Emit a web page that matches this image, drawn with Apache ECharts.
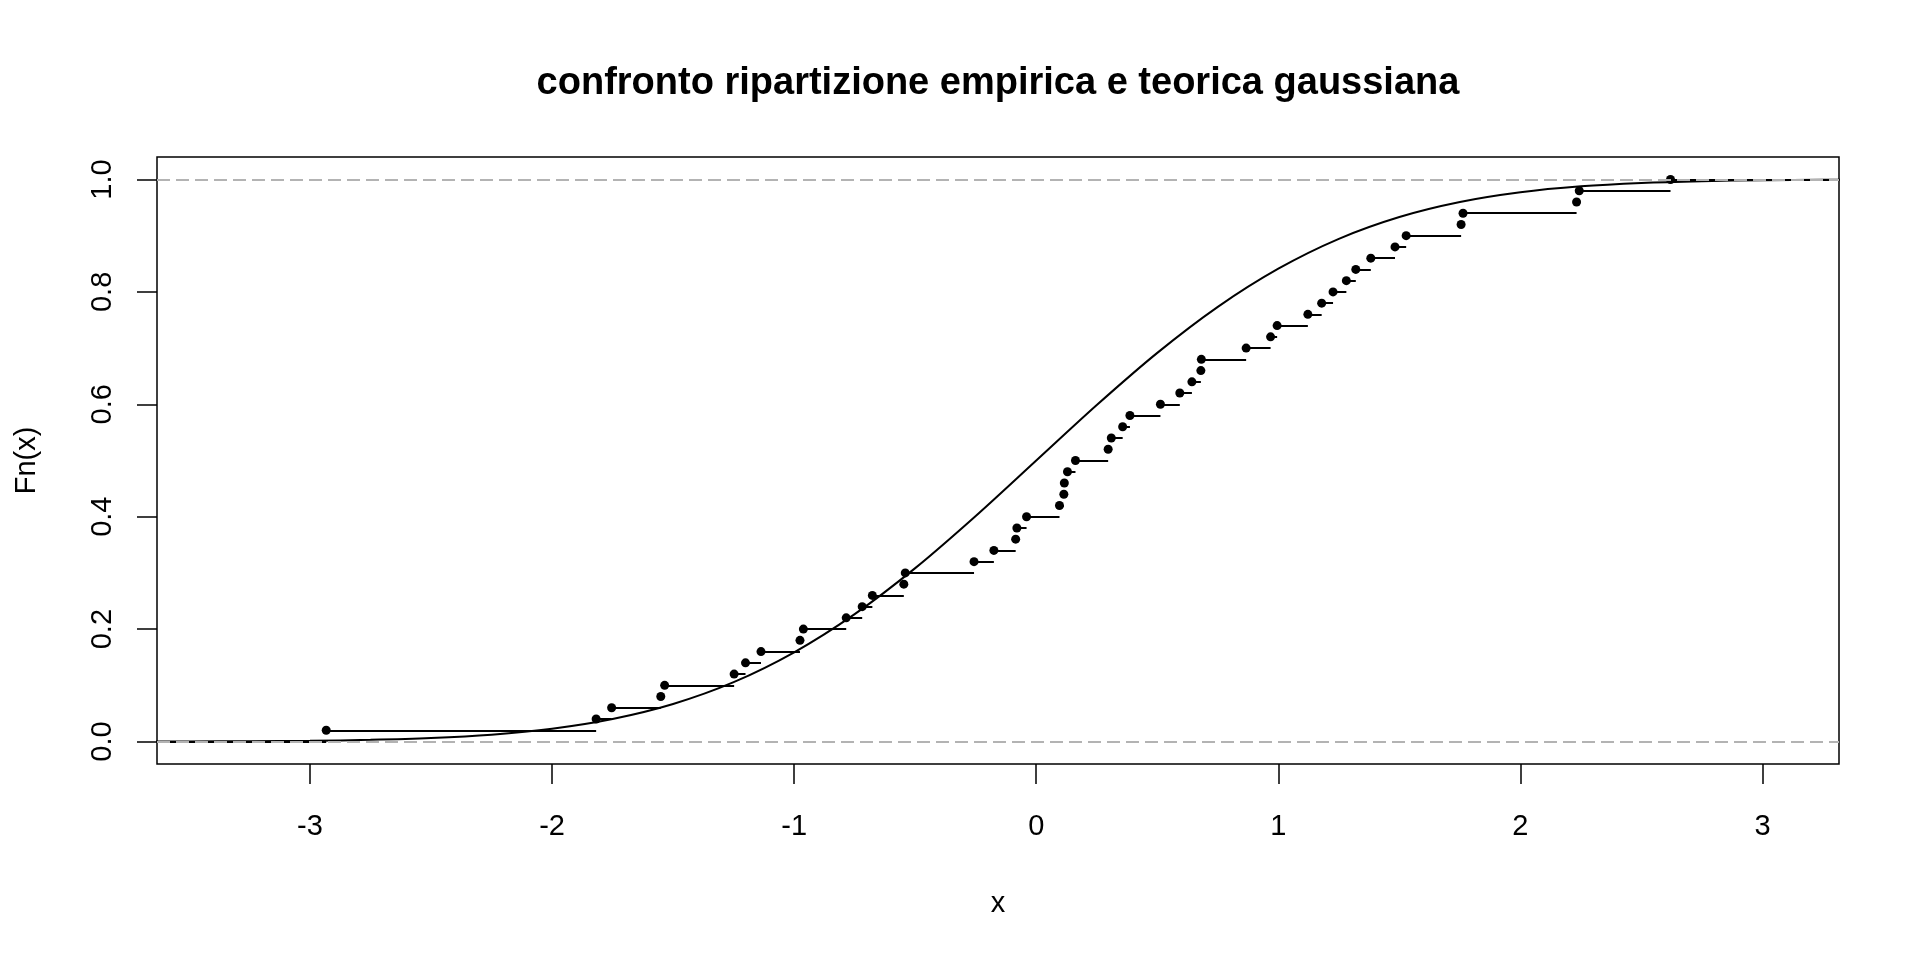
<!DOCTYPE html>
<html>
<head>
<meta charset="utf-8">
<title>confronto ripartizione empirica e teorica gaussiana</title>
<script src="https://cdn.jsdelivr.net/npm/echarts@6/dist/echarts.min.js"></script>
<style>
html, body { margin: 0; padding: 0; background: #fff; }
#chart { width: 1920px; height: 960px; }
</style>
</head>
<body>
<div id="chart"></div>
<script>
// campione ordinato (50 osservazioni)
const campione = [
  -2.933, -1.818, -1.754, -1.551, -1.535, -1.248, -1.201, -1.137, -0.976, -0.962,
  -0.785, -0.719, -0.677, -0.547, -0.541, -0.257, -0.175, -0.085, -0.080, -0.040,
  0.096, 0.114, 0.116, 0.129, 0.162, 0.297, 0.310, 0.357, 0.387, 0.513,
  0.593, 0.643, 0.680, 0.682, 0.867, 0.968, 0.995, 1.122, 1.179, 1.226,
  1.281, 1.320, 1.382, 1.482, 1.528, 1.755, 1.763, 2.232, 2.243, 2.620
]
// ripartizione teorica gaussiana, punti della curva
const curvaX = [-3.75, -3.5, -3.25, -3, -2.75, -2.5, -2.25, -2, -1.75, -1.5, -1.25, -1, -0.75, -0.5, -0.25,
  0, 0.25, 0.5, 0.75, 1, 1.25, 1.5, 1.75, 2, 2.25, 2.5, 2.75, 3, 3.25, 3.5]
const curvaY = [0.0001, 0.0002, 0.0006, 0.0013, 0.0030, 0.0062, 0.0122, 0.0228, 0.0401, 0.0668, 0.1056, 0.1587, 0.2266, 0.3085, 0.4013,
  0.5, 0.5987, 0.6915, 0.7734, 0.8413, 0.8944, 0.9332, 0.9599, 0.9772, 0.9878, 0.9938, 0.9970, 0.9987, 0.9994, 0.9998]
const xTicks = [-3, -2, -1, 0, 1, 2, 3]
const yTicks = [0, 0.2, 0.4, 0.6, 0.8, 1]
const xMin = -3.632, xMax = 3.316
const yMin = -0.04, yMax = 1.04

const n = campione.length
const punti = campione.map((x, i) => [x, (i + 1) / n])
let gradini = []
gradini.push({ coords: [[xMin, 0], [campione[0], 0]] })
for (let i = 0; i < n - 1; i++) {
  gradini.push({ coords: [[campione[i], (i + 1) / n], [campione[i + 1], (i + 1) / n]] })
}
gradini.push({ coords: [[campione[n - 1], 1], [xMax, 1]] })
const curva = curvaX.map((x, i) => [x, curvaY[i]])

const font = 'Liberation Sans'
let myChart = echarts.init(document.getElementById('chart'))
let option = {
  animation: false,
  backgroundColor: '#fff',
  title: {
    text: 'confronto ripartizione empirica e teorica gaussiana',
    left: 993,
    textAlign: 'center',
    top: 60,
    textStyle: { fontFamily: font, fontSize: 38, fontWeight: 'bold', color: '#000' }
  },
  grid: {
    left: 157, right: 81, top: 157, bottom: 196,
    show: true, borderColor: '#000', borderWidth: 1.5, backgroundColor: 'transparent'
  },
  xAxis: {
    type: 'value', min: xMin, max: xMax,
    name: 'x', nameLocation: 'middle', nameGap: 125,
    nameTextStyle: { fontFamily: font, fontSize: 29, color: '#000' },
    axisLine: { show: false, onZero: false },
    splitLine: { show: false },
    axisTick: { show: true, inside: false, length: 20, customValues: xTicks, lineStyle: { color: '#000', width: 1.5 } },
    axisLabel: { customValues: xTicks, margin: 48, fontFamily: font, fontSize: 29, color: '#000',
      formatter: v => String(v) }
  },
  yAxis: {
    type: 'value', min: yMin, max: yMax,
    name: 'Fn(x)', nameLocation: 'middle', nameGap: 116, nameRotate: 90,
    nameTextStyle: { fontFamily: font, fontSize: 29, color: '#000' },
    axisLine: { show: false, onZero: false },
    splitLine: { show: false },
    axisTick: { show: true, inside: false, length: 20, customValues: yTicks, lineStyle: { color: '#000', width: 1.5 } },
    axisLabel: { customValues: yTicks, margin: 40, rotate: 90, fontFamily: font, fontSize: 29, color: '#000',
      formatter: v => v.toFixed(1) }
  },
  series: [
    {
      name: 'gradini',
      type: 'lines',
      coordinateSystem: 'cartesian2d',
      polyline: false,
      z: 1,
      data: gradini,
      lineStyle: { color: '#000', width: 2, opacity: 1 },
      silent: true
    },
    {
      name: 'empirica',
      type: 'scatter',
      z: 2,
      data: punti,
      symbol: 'circle',
      symbolSize: 9,
      itemStyle: { color: '#000', opacity: 1 },
      markLine: {
        silent: true,
        symbol: ['none', 'none'],
        label: { show: false },
        lineStyle: { color: '#b3b3b3', type: [13, 6], width: 2 },
        data: [{ yAxis: 0 }, { yAxis: 1 }]
      }
    },
    {
      name: 'teorica',
      type: 'line',
      z: 4,
      data: curva,
      smooth: 0.3,
      showSymbol: false,
      clip: true,
      lineStyle: { color: '#000', width: 2 }
    }
  ]
}
myChart.setOption(option)
window.addEventListener('resize', function () {
  myChart.resize()
})
</script>
</body>
</html>
